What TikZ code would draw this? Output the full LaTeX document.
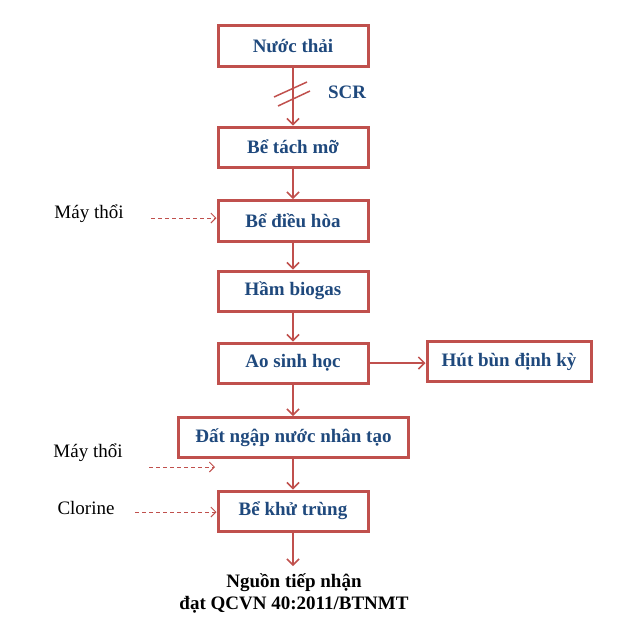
\documentclass[tikz,border=0pt]{standalone}
\usepackage{fontspec}
\setmainfont{Liberation Serif}
\usetikzlibrary{arrows.meta}
\definecolor{boxred}{HTML}{C0504D}
\definecolor{txtblue}{HTML}{1F497D}
\begin{document}
\begin{tikzpicture}[x=1pt,y=-1pt,
  flowbox/.style={draw=boxred, line width=3pt, fill=white, inner sep=0pt,
    minimum width=150pt, minimum height=40pt, text=txtblue,
    font=\fontsize{19}{22}\selectfont\bfseries},
  flowarrow/.style={draw=boxred, line width=2pt, -{Straight Barb[length=6pt,width=12pt,line width=1.5pt]}},
  feedarrow/.style={draw=boxred, line width=0.9pt, dash pattern=on 4pt off 3pt,
    -{Straight Barb[length=5pt,width=10pt,line width=0.9pt,sep=0pt]}},
  sidelabel/.style={inner sep=0pt, text=black, font=\fontsize{19}{22}\selectfont},
  bluelabel/.style={inner sep=0pt, text=txtblue, font=\fontsize{19}{22}\selectfont\bfseries},
  endlabel/.style={inner sep=0pt, text=black, align=center, font=\fontsize{19}{22}\selectfont\bfseries}]
\useasboundingbox (0,0) rectangle (631,622);
\node[flowbox, minimum height=41pt] (nt) at (293,46) {Nước thải};
\node[flowbox] (btm) at (293,147) {Bể tách mỡ};
\node[flowbox, minimum height=41pt] (bdh) at (293,221) {Bể điều hòa};
\node[flowbox] (hb) at (293,291) {Hầm biogas};
\node[flowbox] (ao) at (293,363) {Ao sinh học};
\node[flowbox, minimum width=164pt] (hut) at (509,361.5) {Hút bùn định kỳ};
\node[flowbox, minimum width=230pt] (dnn) at (293.5,437.5) {Đất ngập nước nhân tạo};
\node[flowbox] (bkt) at (293,511) {Bể khử trùng};
\node[bluelabel] (scr) at (347,92) {SCR};
\node[sidelabel] (mt1) at (89,214) {Máy thổi};
\node[sidelabel] (mt2) at (88,453) {Máy thổi};
\node[sidelabel] (clo) at (86,508) {Clorine};
\node[endlabel] (ntn) at (294,593) {Nguồn tiếp nhận\\đạt QCVN 40:2011/BTNMT};
\coordinate (outend) at (293,566);
\coordinate (f1) at (151,218);
\coordinate (f2s) at (149,467);
\coordinate (f2e) at (215,467);
\coordinate (f3) at (135,512);
% main flow
\draw[flowarrow] (nt.south) -- (btm.north);
\draw[flowarrow] (btm.south) -- (bdh.north);
\draw[flowarrow] (bdh.south) -- (hb.north);
\draw[flowarrow] (hb.south) -- (ao.north);
\draw[flowarrow] (ao.south) -- (ao.south |- dnn.north);
\draw[flowarrow] (ao.south |- dnn.south) -- (bkt.north);
\draw[flowarrow] (bkt.south) -- (outend);
\draw[flowarrow] (ao.east) -- (ao.east -| hut.west);
% SCR slashes
\draw[boxred, line width=1.5pt] (274,97) -- (307,82);
\draw[boxred, line width=1.5pt] (278,106) -- (310,91);
% feed arrows
\draw[feedarrow] (f1) -- (f1 -| bdh.west);
\draw[feedarrow] (f2s) -- (f2e);
\draw[feedarrow] (f3) -- (f3 -| bkt.west);
\end{tikzpicture}
\end{document}
